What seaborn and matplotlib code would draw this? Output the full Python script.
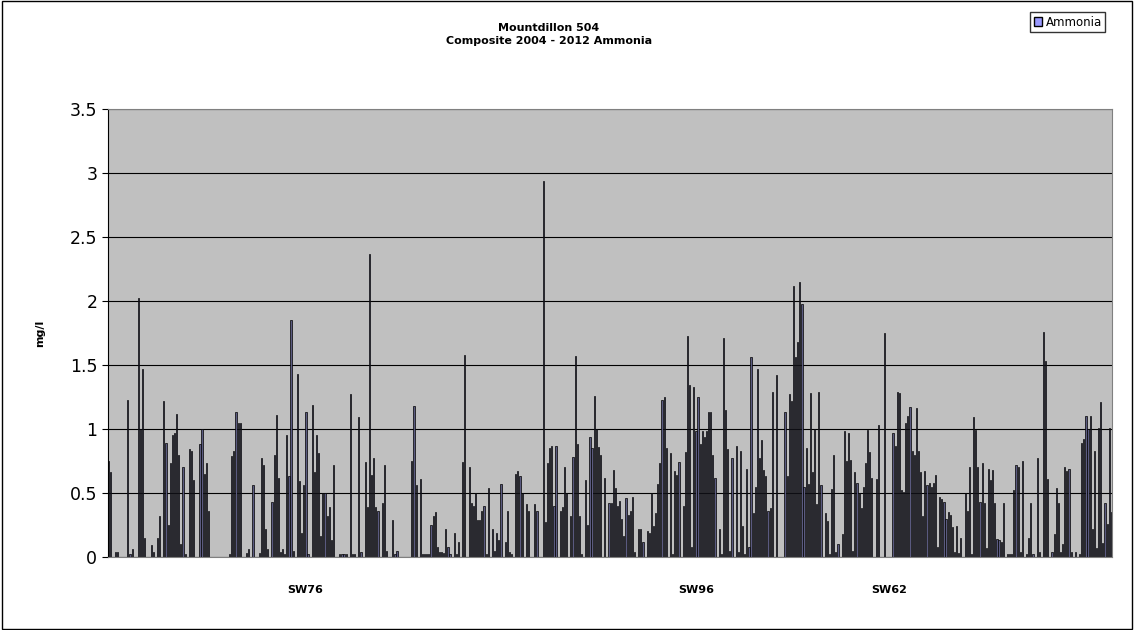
import numpy as np
import pandas as pd
import matplotlib
matplotlib.use("Agg")
import matplotlib.pyplot as plt
from matplotlib.patches import Patch, Rectangle
import seaborn as sns

# ammonia readings (0 = no bar)
seg1 = [0.75,0.66,0,0.04,0.04,0,0,0,0,1.23,0.02,0.06,0,0,2.02,1.0,1.47,0.15,0,0,0.09,0.04,0,0.15,0.32,0,1.22,0.89,0.25,0.73,0.95,0.97,1.12,0.8,0.1,0.7,0.02,0,0.84,0.83,0.6,0,0,0.88,1.0,0.65,0.73,0.36,0,0,0,0,0,0,0,0,0,0.02,0.79,0.83,1.13,1.05,1.05,0,0,0.03,0.06,0,0.56,0,0,0.03,0.77,0.72,0.22,0.06,0,0.43,0.8,1.11,0.62,0.04,0.06,0.02,0.95]
seg2 = [0.63,1.85,0.05,0,1.43,0.59,0.19,0.56,1.13,0.02,0,1.19,0.66,0.95,0.81,0.16,0.5,0.5,0.32,0.39,0.13,0.72,0,0,0.02,0.02,0.02,0.02,0,1.27,0.02,0.02,0,1.09,0.04,0,0.74,0.39,2.37,0.64,0.77,0.39,0.36,0,0.42,0.72,0.05,0,0,0.29,0.02,0.05,0,0,0,0,0,0,0.75,1.18,0.56,0,0.61,0.02,0.02,0.02,0.02,0.25,0.32,0.35,0.08,0.04,0.04,0.03,0.22,0.08,0.02,0,0.19,0.02]
seg3 = [0.12,0,0.74,1.58,0,0.7,0.42,0.4,0.5,0.29,0.29,0.36,0.4,0.02,0.54,0,0.22,0.05,0.19,0.13,0.57,0,0.12,0.36,0.04,0.02,0,0.65,0.67,0.63,0.5,0,0.41,0.36,0,0,0.41,0.36,0,0,2.94,0.27,0.73,0.85,0.87,0.4,0.87,0,0.36,0.39,0.7,0.5,0,0.32,0.78,1.57,0.88,0.32,0.02,0,0.6,0.25,0.94,0.85,1.26,1.0,0.86,0.8,0,0.62,0,0.42,0.42,0.68,0.54,0.4,0.44,0.3]
seg4 = [0.16,0.46,0.33,0.36,0.47,0.04,0,0.22,0.22,0.12,0,0.2,0.19,0.5,0.24,0.34,0.57,0.73,1.23,1.25,0.85,0,0.81,0.02,0.67,0.64,0.74,0,0.4,0.82,1.73,1.34,0.08,1.33,0.98,1.25,0.88,0.98,0.94,0.98,1.13,1.13,0.8,0.62,0,0.22,0.02,1.71,1.15,0.84,0.05,0.77,0,0.87,0.04,0.83,0.24,0.02,0.69,0.08,1.56,0.34,0.55,1.47,0.77,0.91,0.68,0.63,0.36,0.38,1.29,0,1.42,0,0,0,1.13,0.63,1.27]
seg5 = [1.22,2.12,1.56,1.68,2.15,1.98,0.55,0.85,0.57,1.28,0.66,1.0,0.41,1.29,0.56,0,0.34,0.28,0.02,0.53,0.8,0.04,0.1,0,0.18,0.98,0.75,0.97,0.76,0.05,0.66,0.58,0.5,0.38,0.55,0.73,0.99,0.82,0.62,0,0.61,1.03,0,0,1.75,0,0,0,0.97,0.87,1.29,1.28,0.52,0.51,1.05,1.1,1.17,0.83,0.8,1.16,0.83,0.66,0.32,0.67,0.56,0.58,0.55,0.58,0.64,0.08,0.47,0.45,0.43,0.3,0.35,0.33,0.23,0.04]
seg6 = [0.24,0.03,0.15,0,0.5,0.36,0.7,0.02,1.09,0.99,0.7,0.43,0.73,0.42,0.07,0.69,0.6,0.68,0.42,0.14,0.13,0.12,0.42,0,0.02,0.02,0.02,0.52,0.72,0.7,0.04,0.75,0,0.02,0.15,0.42,0.02,0,0.77,0.04,0,1.76,1.53,0.61,0,0.04,0.18,0.54,0.42,0.04,0.1,0.7,0.67,0.69,0.04,0,0.04,0,0.02,0.89,0.92,1.1,1.0,1.1,0.22,0.83,0.07,1.01,1.21,0.11,0.42,0.26,1.01,0.35]

ammonia = seg1 + seg2 + seg3 + seg4 + seg5 + seg6
station_labels = ["SW76", "SW96", "SW62"]
station_frac = [0.196, 0.586, 0.778]  # where the labels sit along the axis

data = pd.DataFrame({"sample": np.arange(len(ammonia)), "Ammonia": ammonia})
n = len(data)

fig = plt.figure(figsize=(11.34, 6.3), dpi=100)
ax = fig.add_axes([0.095, 0.116, 0.886, 0.711])
ax.set_facecolor("#C0C0C0")

sns.barplot(x="sample", y="Ammonia", data=data, ax=ax, color="#5a5a80",
            edgecolor="black", linewidth=0.5, width=0.55, saturation=1)

ax.set_ylim(0, 3.5)
ax.set_xlim(-0.5, n - 0.5)
ax.set_yticks(np.arange(0, 3.6, 0.5))
ax.set_yticklabels(["0", "0.5", "1", "1.5", "2", "2.5", "3", "3.5"], fontsize=12.5)
ax.yaxis.grid(True, color="black", linewidth=0.8)
ax.set_axisbelow(True)
ax.set_xticks([f * (n - 1) for f in station_frac])
ax.set_xticklabels(station_labels, fontsize=8, fontweight="bold")
ax.tick_params(axis="x", length=0, pad=20)
ax.tick_params(axis="y", length=4)
ax.set_xlabel("")
ax.set_ylabel("mg/l", fontsize=8, fontweight="bold", labelpad=18)
for s in ax.spines.values():
    s.set_color("#808080")
ax.spines["left"].set_color("black")

fig.text(0.484, 0.945, "Mountdillon 504\nComposite 2004 - 2012 Ammonia",
         ha="center", va="center", fontsize=8, fontweight="bold", linespacing=1.4)

leg = fig.legend(handles=[Patch(facecolor="#9999FF", edgecolor="black", label="Ammonia")],
                 loc="upper right", bbox_to_anchor=(0.98, 0.99), fontsize=8.5,
                 frameon=True, fancybox=False, edgecolor="black",
                 handlelength=0.7, handleheight=0.7, handletextpad=0.3, borderpad=0.3)

fig.patches.append(Rectangle((0.002, 0.002), 0.996, 0.996, transform=fig.transFigure,
                             fill=False, edgecolor="black", linewidth=1))

fig.savefig("out.png", dpi=100)
